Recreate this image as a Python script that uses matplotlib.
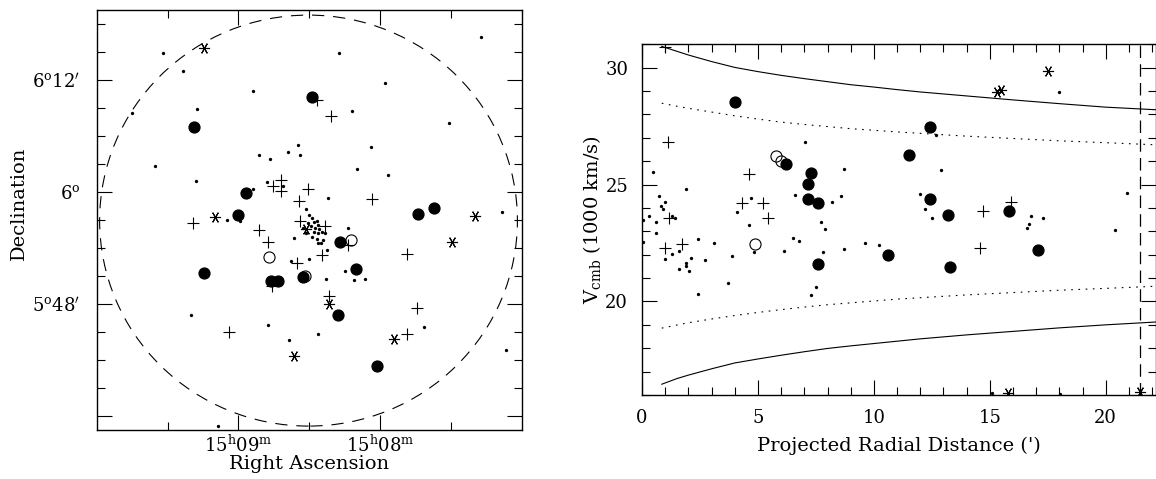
import numpy as np
import matplotlib
matplotlib.use("Agg")
import matplotlib.pyplot as plt
from matplotlib.patches import Ellipse
from matplotlib.ticker import MultipleLocator, FixedLocator, FixedFormatter

plt.rcParams['font.family'] = ['DejaVu Serif']
plt.rcParams['mathtext.fontset'] = 'dejavuserif'

# ---- left panel: RA in seconds after 15h08m, Dec in arcmin relative to 6d00m
ra_fill = [29.0, 78.9, 56.6, 60.3, -15.9, -23.0, 17.0, 10.2, 74.4, 46.2, 43.3, 32.5, 17.7, 1.4]
dec_fill = [10.14, 7.0, -0.14, -2.46, -2.39, -1.71, -5.32, -8.25, -8.71, -9.54, -9.54, -9.07, -13.21, -18.64]

ra_open = [47.2, 12.3, 31.8]
dec_open = [-6.96, -5.14, -9.0]

ra_plus = [79.1, 51.1, 47.6, 45.5, 41.9, 41.9, 34.5, 33.9, 35.2, 64.1, 45.9,
           26.6, 20.8, 30.4, 3.5, 23.3, 13.7, 24.7, -11.3, 21.6, -15.5, -11.3]
dec_plus = [-3.36, -4.07, -5.39, 0.64, 1.29, 0.11, -0.93, -3.11, -7.54, -14.96, -10.1,
            9.86, 8.14, 0.32, -0.75, -3.61, -5.71, -6.75, -6.64, -11.11, -12.46, -15.14]

ra_star = [74.7, 70.0, 36.3, 31.2, 21.6, -6.1, -40.2, -30.5]
dec_star = [15.39, -2.64, -17.57, -3.95, -12.0, -15.68, -2.57, -5.29]

ra_dot = [91.8, 83.6, 53.9, 77.5, 105.1, 95.2, 77.9, 51.1, 46.5, 39.0, 34.6, 33.8, 48.0,
          53.7, 41.2, 64.8, 59.3, 36.6, 31.4, 30.2, 37.6, 30.2, 80.1, 47.6, 38.6, 68.5,
          17.4, -42.6, -2.0, 11.9, -29.1, 3.8, 9.6, -3.2, 22.0, -51.5, 13.7, 22.6, 15.0,
          11.0, 6.4, 23.0, -18.5, 26.1, -53.2,
          28.9, 30.6, 28.1, 26.7, 26.1, 29.2, 27.5, 25.7, 28.1, 26.1, 24.5, 28.9, 26.7,
          24.0, 26.4, 25.0, 23.3, 31.5, 32.8]
dec_dot = [14.86, 13.0, 10.86, 8.86, 8.43, 2.75, 1.14, 3.93, 3.57, 4.32, 5.07, 3.93, 1.04,
           0.36, 0.68, -3.0, -3.07, -4.96, -1.79, -2.5, -7.36, -7.21, -13.21, -14.25, -15.79, -25.07,
           14.86, 16.61, 11.71, 8.68, 7.36, 4.79, 2.5, 1.79, -0.68, -2.18, -3.89, -6.25, -8.46,
           -9.39, -9.32, -9.25, -14.46, -15.21, -16.93,
           -2.79, -3.36, -3.25, -3.11, -3.47, -3.65, -3.83, -4.0, -4.22, -4.36, -4.29, -4.79, -4.97,
           -5.15, -5.43, -5.5, -4.43, -4.36, -3.79]

center_ra = 30.3
center_dec = -3.05
radius = 22.0          # arcmin
dec0 = 6.0             # deg, for RA scaling

# ---- right panel: projected radius (arcmin), velocity (1000 km/s)
r_fill = [4.0, 6.22, 7.29, 7.18, 7.18, 7.60, 7.60, 10.6, 12.40, 11.5, 12.40, 13.19, 15.81, 17.1, 13.29]
v_fill = [28.51, 25.89, 25.51, 25.01, 24.40, 24.19, 21.59, 22.0, 27.47, 26.27, 24.37, 23.71, 23.86, 22.21, 21.49]

r_open = [5.78, 6.0, 4.89]
v_open = [26.21, 26.0, 22.44]

r_plus = [0.99, 1.12, 4.60, 4.30, 5.21, 5.44, 1.18, 1.01, 1.71, 14.71, 15.9, 14.59]
v_plus = [30.87, 26.84, 25.46, 24.2, 24.2, 23.56, 23.56, 22.3, 22.44, 23.89, 24.27, 22.27]

r_star = [15.31, 15.5, 17.5, 15.77, 21.47]
v_star = [28.96, 29.06, 29.84, 16.08, 16.12]

r_dot = [0.49, 1.9, 0.71, 1.01, 0.82, 0.89, 0.32, 0.03, 0.6, 1.29, 1.41, 0.6, 0.03, 1.61, 1.29,
         1.01, 2.4, 3.11, 2.12, 1.9, 1.9, 2.71, 1.61, 2.01, 2.4, 3.7, 3.9, 4.1, 4.69, 4.6, 4.81,
         6.12, 6.5, 6.79, 6.6, 7.01, 8.2, 8.6, 8.71, 7.7, 7.9, 7.8, 7.51, 7.29, 8.71, 9.61, 10.2,
         12.69, 12.89, 12.0, 12.2, 12.5, 16.79, 16.69, 16.6, 17.29, 18.0, 20.4, 20.9, 15.1, 18.05]
v_dot = [25.53, 24.8, 24.53, 24.26, 24.07, 23.94, 23.64, 23.5, 23.41, 23.67, 23.56, 22.93, 22.53,
         22.16, 22.01, 21.81, 22.69, 22.5, 21.84, 21.64, 21.53, 21.79, 21.37, 21.3, 20.33, 20.81,
         21.93, 23.81, 24.41, 23.27, 22.1, 22.16, 22.71, 22.6, 24.54, 26.8, 24.27, 24.53, 25.66,
         23.39, 23.1, 22.1, 20.61, 20.27, 22.23, 22.51, 22.4,
         27.13, 25.64, 24.61, 23.96, 23.56, 23.64, 23.33, 23.16, 23.59, 28.97, 23.07, 24.64, 16.08, 16.06]

# envelope curves
r_env = [0.85, 1.5, 2, 3, 4, 5, 6, 7, 8, 9, 10, 11, 12, 14, 16, 18, 20, 22.15]
v_up_solid = [30.91, 30.7, 30.54, 30.26, 30.01, 29.83, 29.67, 29.53, 29.4, 29.27, 29.17, 29.06,
              28.96, 28.79, 28.62, 28.46, 28.31, 28.2]
v_lo_solid = [16.46, 16.7, 16.85, 17.12, 17.37, 17.54, 17.7, 17.85, 17.99, 18.1, 18.2, 18.3,
              18.4, 18.57, 18.72, 18.87, 19.0, 19.12]
v_up_dot = [28.48, 28.35, 28.26, 28.1, 27.94, 27.8, 27.67, 27.57, 27.48, 27.39, 27.32, 27.25,
            27.19, 27.07, 26.97, 26.87, 26.79, 26.7]
v_lo_dot = [18.86, 18.99, 19.09, 19.25, 19.4, 19.53, 19.65, 19.76, 19.86, 19.94, 20.02, 20.1,
            20.16, 20.28, 20.38, 20.48, 20.56, 20.65]
r_limit = 21.5

fig = plt.figure(figsize=(11.56, 4.79), dpi=100)
ax1 = fig.add_axes([0.0837, 0.1017, 0.3676, 0.8775])
ax2 = fig.add_axes([0.5554, 0.1754, 0.4442, 0.7322])

def draw_marks(ax, xf, yf, xo, yo, xp, yp, xs, ys, xd, yd):
    ax.plot(xd, yd, 'o', ms=2.4, color='black', mew=0, ls='none')
    ax.plot(xp, yp, '+', ms=8, mew=0.8, color='black', ls='none')
    ax.plot(xs, ys, ls='none', marker=(6, 2, 90), ms=8, mew=0.8, color='black')
    ax.plot(xf, yf, 'o', ms=7.8, color='black', ls='none')
    ax.plot(xo, yo, 'o', ms=8, mfc='none', mec='black', mew=0.8, ls='none')

# left panel
draw_marks(ax1, ra_fill, dec_fill, ra_open, dec_open, ra_plus, dec_plus,
           ra_star, dec_star, ra_dot, dec_dot)
rx = radius / (0.25 * np.cos(np.radians(dec0)))
ax1.add_patch(Ellipse((center_ra, center_dec), 2 * rx, 2 * radius, fill=False,
                      lw=0.8, ls=(0, (11, 8)), color='black'))
ax1.set_xlim(120, -60)
ax1.set_ylim(-25.5, 19.5)
ax1.xaxis.set_major_locator(FixedLocator([60, 0]))
ax1.xaxis.set_major_formatter(FixedFormatter([r'15$^{\rm h}$09$^{\rm m}$', r'15$^{\rm h}$08$^{\rm m}$']))
ax1.xaxis.set_minor_locator(FixedLocator([90, 30, -30]))
ax1.yaxis.set_major_locator(FixedLocator([12, 0, -12, -24]))
ax1.yaxis.set_major_formatter(FixedFormatter([r"6$^{\rm o}$12$'$", r"6$^{\rm o}$", r"5$^{\rm o}$48$'$", '']))
ax1.yaxis.set_minor_locator(MultipleLocator(3))
ax1.set_xlabel('Right Ascension', fontsize=14)
ax1.set_ylabel('Declination', fontsize=14)
ax1.xaxis.set_label_coords(0.5, -0.058)
ax1.yaxis.set_label_coords(-0.162, 0.54)

# right panel
for v, st in [(v_up_solid, '-'), (v_lo_solid, '-'), (v_up_dot, (0, (1.5, 5))), (v_lo_dot, (0, (1.5, 5)))]:
    ax2.plot(r_env, v, color='black', lw=0.8, ls=st)
ax2.axvline(r_limit, color='black', lw=0.9, ls=(0, (10, 5)))
draw_marks(ax2, r_fill, v_fill, r_open, v_open, r_plus, v_plus,
           r_star, v_star, r_dot, v_dot)
ax2.set_xlim(0, 22.15)
ax2.set_ylim(16, 31)
ax2.xaxis.set_major_locator(MultipleLocator(5))
ax2.xaxis.set_minor_locator(MultipleLocator(1))
ax2.yaxis.set_major_locator(MultipleLocator(5))
ax2.yaxis.set_minor_locator(MultipleLocator(1))
ax2.set_xlabel("Projected Radial Distance (')", fontsize=14)
ax2.set_ylabel(r'V$_{\rm cmb}$ (1000 km/s)', fontsize=14)
ax2.xaxis.set_label_coords(0.5, -0.12)
ax2.yaxis.set_label_coords(-0.076, 0.5)

for ax in (ax1, ax2):
    ax.tick_params(which='both', direction='in', top=True, right=True, width=0.8, labelsize=13)
    ax.tick_params(which='major', length=11)
    ax.tick_params(which='minor', length=5.5)
    for s in ax.spines.values():
        s.set_linewidth(1.0)
ax1.tick_params(axis='x', which='major', pad=3)
ax1.tick_params(axis='y', which='major', pad=12)
ax2.tick_params(axis='x', which='major', pad=10)
ax2.tick_params(axis='y', which='major', pad=10)

fig.savefig('out.png', dpi=100)
